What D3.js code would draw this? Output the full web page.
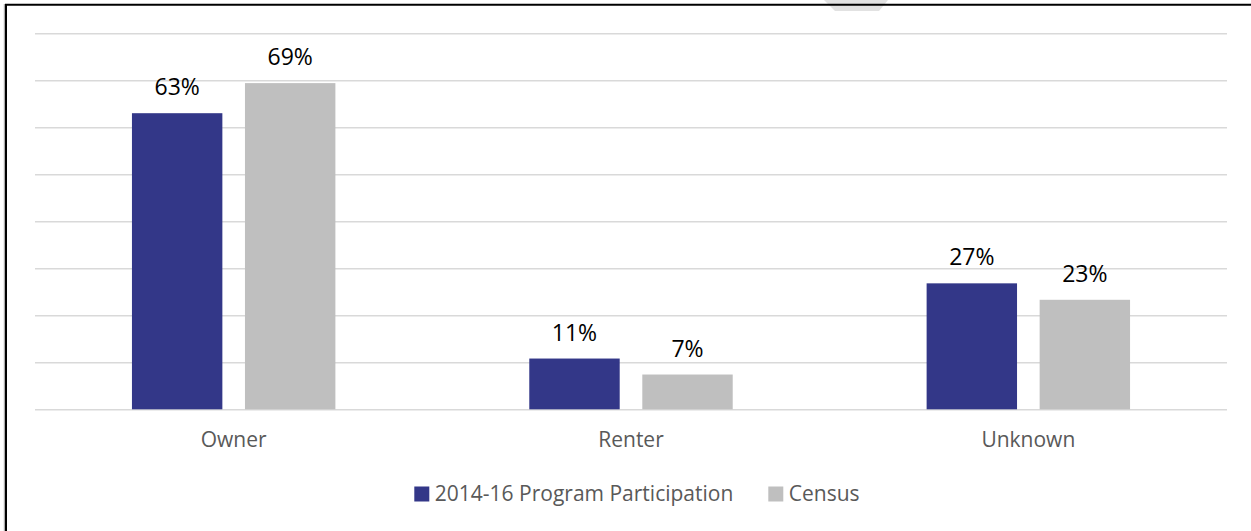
<!DOCTYPE html>
<html>
<head>
<meta charset="utf-8">
<script src="https://cdn.jsdelivr.net/npm/d3@7"></script>
<style>
    html, body { margin: 0; padding: 0; background: #fff; }
    text { font-family: "Open Sans", sans-serif; }
</style>
</head>
<body>
<div id="chart"></div>
<script>
// Chart data
const categories = ["Owner", "Renter", "Unknown"];
const seriesNames = ["2014-16 Program Participation", "Census"];
const participation = [63.0, 10.8, 26.8];
const census = [69.4, 7.4, 23.3];
const yTicks = [0, 10, 20, 30, 40, 50, 60, 70, 80];

const width = 1251, height = 531;
const colors = ["#333788", "#bfbfbf"];

let svg = d3.select("#chart").append("svg")
    .attr("width", width)
    .attr("height", height);

// frame decoration (top edge shadow + black border)
svg.append("path")
    .attr("d", "M824,0 L888,0 L879,11 L835,11 Z")
    .attr("fill", "#e2e2e2");
svg.append("line")
    .attr("x1", 5).attr("x2", width)
    .attr("y1", 4.8).attr("y2", 4.8)
    .attr("stroke", "#000").attr("stroke-width", 2);
svg.append("line")
    .attr("x1", 4.2).attr("x2", 4.2)
    .attr("y1", 4).attr("y2", height)
    .attr("stroke", "#c8c8c8").attr("stroke-width", 1);
svg.append("line")
    .attr("x1", 5.9).attr("x2", 5.9)
    .attr("y1", 4).attr("y2", height)
    .attr("stroke", "#000").attr("stroke-width", 2.2);

let plot = { left: 35, right: 1227, top: 33.3, bottom: 409.3 };

let x0 = d3.scaleBand()
    .domain(categories)
    .range([plot.left, plot.right])
    .paddingInner(0.488)
    .paddingOuter(0.244);

let x1 = d3.scaleBand()
    .domain(seriesNames)
    .range([0, x0.bandwidth()])
    .paddingInner(0.2);

let y = d3.scaleLinear()
    .domain([0, 80])
    .range([plot.bottom, plot.top]);

// gridlines
let grid = svg.append("g")
    .attr("transform", `translate(${plot.left},0)`)
    .call(d3.axisLeft(y).tickValues(yTicks).tickSize(-(plot.right - plot.left)).tickFormat(""));
grid.select(".domain").remove();
grid.selectAll(".tick line")
    .attr("stroke", "#d9d9d9")
    .attr("stroke-width", 1.6);

let rows = categories.map((c, i) => ({
    category: c,
    values: [
        { series: seriesNames[0], value: participation[i] },
        { series: seriesNames[1], value: census[i] }
    ]
}));

let groups = svg.selectAll("g.cat")
    .data(rows)
    .enter().append("g")
    .attr("class", "cat")
    .attr("transform", d => `translate(${x0(d.category)},0)`);

groups.selectAll("rect")
    .data(d => d.values)
    .enter().append("rect")
    .attr("x", d => x1(d.series))
    .attr("y", d => y(d.value))
    .attr("width", x1.bandwidth())
    .attr("height", d => y(0) - y(d.value))
    .attr("fill", (d, i) => colors[i]);

groups.selectAll("text.val")
    .data(d => d.values)
    .enter().append("text")
    .attr("class", "val")
    .attr("x", d => x1(d.series) + x1.bandwidth() / 2)
    .attr("y", d => y(d.value) - 18)
    .attr("text-anchor", "middle")
    .attr("font-size", "23px")
    .attr("fill", "#000")
    .text(d => Math.round(d.value) + "%");

// category axis labels
svg.selectAll("text.cat-label")
    .data(categories)
    .enter().append("text")
    .attr("class", "cat-label")
    .attr("x", d => x0(d) + x0.bandwidth() / 2)
    .attr("y", 447)
    .attr("text-anchor", "middle")
    .attr("font-size", "21px")
    .attr("fill", "#595959")
    .text(d => d);

// legend
let legendX = [414.3, 768.3];
let legend = svg.append("g").attr("class", "legend");
seriesNames.forEach((s, i) => {
    let g = legend.append("g")
        .attr("transform", `translate(${legendX[i]}, 486.5)`);
    g.append("rect")
        .attr("width", 15)
        .attr("height", 15)
        .attr("fill", colors[i]);
    g.append("text")
        .attr("x", 20.5)
        .attr("y", 14.5)
        .attr("font-size", "21px")
        .attr("fill", "#595959")
        .text(s);
});
</script>
</body>
</html>
